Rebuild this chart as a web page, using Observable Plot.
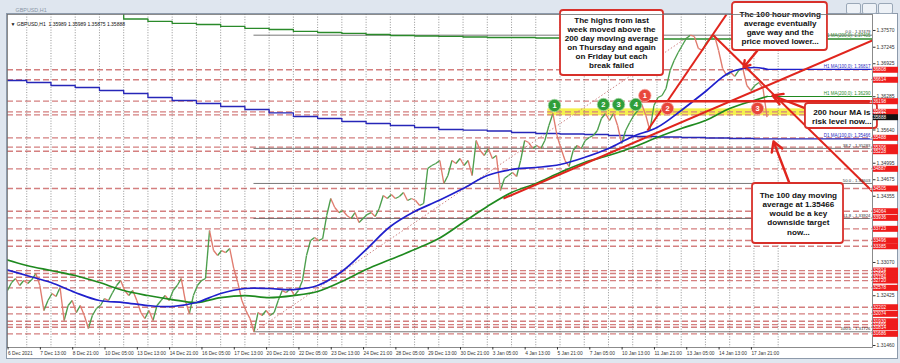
<!DOCTYPE html>
<html><head><meta charset="utf-8">
<script src="https://cdn.jsdelivr.net/npm/d3@7"></script>
<script src="https://cdn.jsdelivr.net/npm/@observablehq/plot@0.6"></script>
<style>
html,body{margin:0;padding:0;background:#dfe6ef;}
#wrap{position:relative;width:900px;height:363px;overflow:hidden;background:#dfe6ef;}
.btn{position:absolute;top:3px;width:13px;height:9px;border:1px solid #9aa8b8;border-radius:2px;background:#eef2f7;}
</style></head><body><div id="wrap"></div>
<script>
// ---- price data: 4-hour closes, hourly bar index = firstBar + barStep*i ----
const firstBar = 5, barStep = 4;
const closes = [1.32526,1.32681,1.32759,1.32623,1.32720,1.32662,1.32739,1.32856,1.32623,1.32138,
1.32332,1.32468,1.32410,1.32584,1.31944,1.32235,1.32332,1.32099,1.32235,1.32041,
1.31789,1.32041,1.32177,1.32235,1.32371,1.32332,1.32487,1.32623,1.32720,1.32526,
1.32429,1.32526,1.32332,1.32099,1.31983,1.32138,1.31944,1.32235,1.32332,1.32429,
1.32332,1.32526,1.32623,1.32759,1.32332,1.32080,1.32429,1.32623,1.32720,1.32759,
1.33690,1.33302,1.33205,1.33302,1.33263,1.33341,1.32953,1.32681,1.32332,1.32138,
1.31983,1.31726,1.32099,1.32041,1.32138,1.32041,1.32099,1.32332,1.32526,1.32487,
1.32565,1.32429,1.32526,1.32720,1.33205,1.33496,1.33554,1.33496,1.33535,1.33981,
1.34311,1.34136,1.34039,1.34078,1.33981,1.33923,1.34039,1.33845,1.33923,1.34000,
1.34039,1.33962,1.34117,1.34369,1.34311,1.34388,1.34311,1.34350,1.34427,1.34272,
1.34311,
1.34272,1.34175,1.34214,1.34893,1.34951,1.34990,1.35048,1.34602,1.34757,1.35048,
1.34990,1.35087,1.34951,1.35048,1.34757,1.35436,1.35242,1.35145,1.35281,1.35087,
1.35145,1.34466,1.34699,1.34757,1.34815,1.34738,1.35048,1.35436,1.35397,1.35281,
1.35339,1.35281,1.35436,1.35727,1.35960,1.35533,1.35281,1.35048,1.34932,1.35242,
1.35339,1.35281,1.35436,1.35494,1.35533,1.35630,1.35863,1.35960,1.35824,1.35960,
1.35727,1.35378,1.35630,1.35785,1.35921,1.36018,1.36134,1.35921,1.35630,1.36115,
1.36270,1.36309,1.36445,1.36794,1.36988,1.37143,1.37279,1.37415,1.37479,1.37454,
1.37221,1.37182,1.37337,1.37415,1.37473,1.37182,1.36833,1.36697,1.36755,1.36678,
1.36794,1.36833,1.36503,1.36406,1.36503,1.36561,1.36445,1.35888];

// hourly moving averages sampled at day boundaries (bar index)
const maIdx = [0,24,48,72,96,120,144,168,192,216,240,264,288,312,336,360,384,408,432,456,480,504,528,552,576,600,624,648,672,696,720,744,757];
const ma100h = [1.32953,1.32817,1.32681,1.32487,1.32332,1.32293,1.32235,1.32216,1.32293,1.32468,1.32565,1.32565,1.32545,1.32623,1.32895,1.33321,1.33768,1.34059,1.34272,1.34505,1.34757,1.34873,1.34912,1.34970,1.35106,1.35281,1.35514,1.35688,1.36018,1.36387,1.36755,1.36852,1.36817];
const ma200h = [1.33147,1.33011,1.32914,1.32817,1.32681,1.32526,1.32429,1.32351,1.32293,1.32390,1.32429,1.32390,1.32429,1.32507,1.32701,1.32933,1.33127,1.33321,1.33535,1.33845,1.34156,1.34427,1.34602,1.34815,1.35009,1.35145,1.35300,1.35494,1.35669,1.35824,1.36057,1.36212,1.36290];

// daily moving averages (one value per trading day)
const dayIdx = [0,24,48,72,96,120,144,168,192,216,240,264,288,312,336,360,384,408,432,456,480,504,528,552,576,600,624,648,672,696,720,744];
const d1ma100 = [1.36600,1.36561,1.36503,1.36464,1.36406,1.36348,1.36270,1.36212,1.36154,1.36096,1.36037,1.35970,1.35902,1.35863,1.35805,1.35766,1.35727,1.35688,1.35649,1.35639,1.35620,1.35591,1.35572,1.35562,1.35552,1.35533,1.35514,1.35504,1.35494,1.35485,1.35475,1.35466];
const d1ma200 = [1.38120,1.38090,1.38060,1.38030,1.37990,1.37793,1.37745,1.37706,1.37686,1.37648,1.37609,1.37589,1.37551,1.37531,1.37512,1.37492,1.37473,1.37463,1.37454,1.37444,1.37434,1.37434,1.37424,1.37424,1.37415,1.37415,1.37415,1.37405,1.37405,1.37405,1.37405,1.37405];

const daySeparators = [24,48,72,96,120,144,168,192,216,240,264,288,312,336,360,384,408,432,456,480,504,528,552,576,600,624,648,672,696,720,744,768];

// axis ticks
const xTickIdx = [5,37,69,101,133,165,197,229,261,293,325,357,389,421,453,485,517,549,581,613,645,677,709,741];
const xTickText = ["6 Dec 2021","7 Dec 13:00","8 Dec 21:00","10 Dec 05:00","13 Dec 13:00","14 Dec 21:00","16 Dec 05:00","17 Dec 13:00","20 Dec 21:00","22 Dec 05:00","23 Dec 13:00","24 Dec 21:00","28 Dec 05:00","29 Dec 13:00","30 Dec 21:00","3 Jan 05:00","4 Jan 13:00","5 Jan 21:00","7 Jan 05:00","10 Jan 13:00","11 Jan 21:00","13 Jan 05:00","14 Jan 13:00","17 Jan 21:00"];
const yTicks = [1.37570,1.37245,1.36925,1.36285,1.35640,1.34995,1.34675,1.34355,1.33070,1.32425,1.31460];

// horizontal levels (dashed) and price labels
const levels = [1.36808,1.36614,1.36198,1.35992,1.35932,1.35488,1.35306,1.35228,1.34887,1.34505,1.34064,1.33936,1.33723,1.33496,1.33385,1.32914,1.32856,1.32784,1.32720,1.32578,1.32202,1.32074,1.31930,1.31866,1.31814,1.31686];
const lastPrice = 1.35888;
const keyLevel = 1.36198, keyLevelStart = 632;
const bandLow = 1.35915, bandHigh = 1.36050, bandStart = 540;

// fibonacci retracement
const fibPct = ["0.0","38.2","50.0","61.8","100.0"];
const fibPrice = [1.37479,1.35283,1.34603,1.33924,1.31726];
const fibLowIdx = 249, fibHighIdx = 681;

// MA value labels
const maLabelText = ["D1 MA(200,0): 1.37405","H1 MA(100,0): 1.36817","H1 MA(200,0): 1.36290","D1 MA(100,0): 1.35466"];
const maLabelPrice = [1.37405,1.36817,1.36290,1.35466];
const maLabelColor = ["#2a8a2a","#2a2ac0","#2a8a2a","#2a2ac0"];

// trend lines
const trendX1 = [496,638.6,704], trendY1 = [1.34311,1.35630,1.37473];
const trendX2 = [861.4,716.8,861.4], trendY2 = [1.37376,1.37880,1.34447];

// numbered markers
const greenMarkIdx = [546.5,595,610,627], greenMarkPrice = [1.36115,1.36134,1.36134,1.36134];
const redMarkIdx = [636,658.4,747.5], redMarkPrice = [1.36309,1.36057,1.36057];

// annotations
const noteText = [
 "The highs from last\nweek moved above the\n200 day moving average\non Thursday and again\non Friday but each\nbreak failed",
 "The 100 hour moving\naverage eventually\ngave way and the\nprice moved lower...",
 "200 hour MA is\nrisk level now...",
 "The 100 day moving\naverage at 1.35466\nwould be a key\ndownside target\nnow..."];
const noteX = [603,770,831,788], noteY = [1.37337,1.37628,1.35902,1.34020];
const boxX1 = [552.5,722.8,795,742.6], boxX2 = [654.5,816.8,866.3,832.7];
const boxY1 = [1.36697,1.37182,1.35669,1.33438], boxY2 = [1.37958,1.38113,1.36154,1.34602];
const arrowX1 = [780,747.5,795], arrowY1 = [1.34563,1.37182,1.36057];
const arrowX2 = [763.4,733.7,762.4], arrowY2 = [1.35417,1.36852,1.36309];

// ---- build tables ----
const xMin = 4.95, xMax = 861.4;
const bars = closes.map((c,i)=>({x: firstBar + barStep*i, c}));
const lastIdx = bars[bars.length-1].x;
const segs = bars.slice(1).map((b,i)=>({x1: bars[i].x, y1: bars[i].c, x2: b.x, y2: b.c, up: b.c >= bars[i].c}));
const h100 = maIdx.map((x,i)=>({x, y: ma100h[i]}));
const h200 = maIdx.map((x,i)=>({x, y: ma200h[i]}));
const dStep100 = dayIdx.map((x,i)=>({x, y: d1ma100[i]})).concat([{x: xMax, y: d1ma100[d1ma100.length-1]}]);
const dStep200 = dayIdx.map((x,i)=>({x, y: d1ma200[i]})).concat([{x: xMax, y: d1ma200[d1ma200.length-1]}]);
const fib = fibPct.map((p,i)=>({p, y: fibPrice[i]}));
const maLabels = maLabelText.map((t,i)=>({t, y: maLabelPrice[i], c: maLabelColor[i]}));
const trends = trendX1.map((x,i)=>({x1:x, y1:trendY1[i], x2:trendX2[i], y2:trendY2[i]}));
const greens = greenMarkIdx.map((x,i)=>({x, y: greenMarkPrice[i], n: String(i+1)}));
const reds = redMarkIdx.map((x,i)=>({x, y: redMarkPrice[i], n: String(i+1)}));
const notes = noteText.map((t,i)=>({t, x: noteX[i], y: noteY[i], x1: boxX1[i], x2: boxX2[i], y1: boxY1[i], y2: boxY2[i]}));
const arrows = arrowX1.map((x,i)=>({x1:x, y1:arrowY1[i], x2:arrowX2[i], y2:arrowY2[i]}));
const tickLabel = new Map(xTickIdx.map((d,i)=>[d, xTickText[i]]));

const RED = "#e0251d";
const chart = Plot.plot({
  width: 900, height: 363,
  marginLeft: 7, marginRight: 28, marginTop: 14, marginBottom: 16,
  x: {domain: [xMin, xMax]},
  y: {domain: [1.31421, 1.37880]},
  style: {fontFamily: "Liberation Sans, Arial, sans-serif", background: "transparent", overflow: "visible"},
  marks: [
    Plot.frame({fill: "white", stroke: "#8d9aab", insetLeft: -1, insetTop: -1, insetRight: -25, insetBottom: -11}),
    Plot.rect([0], {x1: bandStart, x2: xMax, y1: bandLow, y2: bandHigh, fill: "#f4f03a", fillOpacity: 0.9}),
    Plot.ruleY(levels, {y: d=>d, stroke: "#d47f7f", strokeWidth: 1.3, strokeDasharray: "6,3"}),
    Plot.ruleX(daySeparators, {x: d=>d, stroke: "#666", strokeWidth: 0.7, strokeDasharray: "1,1.6"}),
    Plot.ruleY(fib, {y: "y", x1: fibLowIdx, x2: xMax, stroke: "#555", strokeWidth: 0.8}),
    Plot.link([0], {x1: fibLowIdx, y1: fibPrice[4], x2: fibHighIdx, y2: fibPrice[0], stroke: "#d08585", strokeWidth: 1, strokeDasharray: "1.5,2"}),
    Plot.line(dStep100, {x: "x", y: "y", curve: "step-after", stroke: "#2626b8", strokeWidth: 1.3, clip: true}),
    Plot.line(dStep200, {x: "x", y: "y", curve: "step-after", stroke: "#2a8a2a", strokeWidth: 1.3, clip: true}),
    Plot.link(segs.filter(d=>d.up), {x1:"x1", y1:"y1", x2:"x2", y2:"y2", stroke: "#4c9e4c", strokeWidth: 1.35}),
    Plot.link(segs.filter(d=>!d.up), {x1:"x1", y1:"y1", x2:"x2", y2:"y2", stroke: "#e07b6e", strokeWidth: 1.35}),
    Plot.line(h200, {x: "x", y: "y", curve: "catmull-rom", stroke: "#1f8a1f", strokeWidth: 1.7, clip: true}),
    Plot.line(h100, {x: "x", y: "y", curve: "catmull-rom", stroke: "#2020cc", strokeWidth: 1.7, clip: true}),
    Plot.ruleY([ma100h[ma100h.length-1]], {y: d=>d, x1: lastIdx, x2: xMax, stroke: "#2020cc", strokeWidth: 1.3}),
    Plot.ruleY([ma200h[ma200h.length-1]], {y: d=>d, x1: lastIdx, x2: xMax, stroke: "#1f8a1f", strokeWidth: 1.1}),
    Plot.ruleY([keyLevel], {y: d=>d, x1: keyLevelStart, x2: xMax, stroke: RED, strokeWidth: 2.6}),
    Plot.link(trends, {x1:"x1", y1:"y1", x2:"x2", y2:"y2", stroke: RED, strokeWidth: 2, clip: true}),
    Plot.arrow(arrows, {x1:"x1", y1:"y1", x2:"x2", y2:"y2", stroke: RED, strokeWidth: 2.4, headLength: 7}),
    Plot.dot(greens, {x: "x", y: "y", r: 6.2, fill: "#2f9e3a", stroke: "#9fd39f", strokeWidth: 0.8}),
    Plot.text(greens, {x: "x", y: "y", text: "n", fill: "white", fontSize: 7.5, fontWeight: "bold"}),
    Plot.dot(reds, {x: "x", y: "y", r: 6.2, fill: "#e8473c", stroke: "#f5a8a0", strokeWidth: 0.8}),
    Plot.text(reds, {x: "x", y: "y", text: "n", fill: "white", fontSize: 7.5, fontWeight: "bold"}),
    Plot.text(fib, {y: "y", text: d=>d.p + " - " + d.y.toFixed(5), frameAnchor: "right", dx: -2, dy: -3.2, textAnchor: "end", fontSize: 4.3, fill: "#333"}),
    Plot.text(maLabels, {y: "y", text: "t", fill: "c", frameAnchor: "right", dx: -2, dy: -3.2, textAnchor: "end", fontSize: 4.5}),
    Plot.rect(notes, {x1:"x1", x2:"x2", y1:"y1", y2:"y2", fill: "white", stroke: "#d8302a", strokeWidth: 1.8, rx: 3}),
    Plot.text(notes, {x: "x", y: "y", text: "t", fontSize: 8.1, fontWeight: "bold", lineHeight: 1.12, fill: "#111"}),
    Plot.frame({stroke: "#6f6f6f", strokeWidth: 0.8}),
    Plot.axisX(xTickIdx, {anchor: "bottom", tickSize: 2.5, tickPadding: 1.5, textAnchor: "start", dx: 0.5, fontSize: 4.8, color: "#333", tickFormat: d => tickLabel.get(d)}),
    Plot.axisY(yTicks, {anchor: "right", tickSize: 2.5, tickPadding: 1.5, fontSize: 5, color: "#333", tickFormat: d => d.toFixed(5)}),
    Plot.ruleY(levels, {y: d=>d, stroke: "#ee1c1c", strokeWidth: 6, insetLeft: 866, insetRight: -26}),
    Plot.text(levels, {y: d=>d, text: d=>d.toFixed(5), frameAnchor: "right", dx: 13.5, fill: "white", fontSize: 4.6}),
    Plot.ruleY([lastPrice], {y: d=>d, stroke: "#111", strokeWidth: 6, insetLeft: 866, insetRight: -26}),
    Plot.text([lastPrice], {y: d=>d, text: d=>d.toFixed(5), frameAnchor: "right", dx: 13.5, fill: "white", fontSize: 4.6}),
    Plot.text(["\u25BC GBPUSD,H1  1.35989 1.35989 1.35875 1.35888"], {frameAnchor: "top-left", dx: 3, dy: 8, textAnchor: "start", fontSize: 5, fill: "#111"}),
    Plot.text(["GBPUSD,H1"], {frameAnchor: "top-left", dx: 8, dy: -6, textAnchor: "start", fontSize: 5.4, fill: "#8a96a6"})
  ]
});
const wrap = document.getElementById("wrap");
wrap.appendChild(chart);
chart.style.position = "absolute"; chart.style.left = "0"; chart.style.top = "0";
[846, 862, 878].forEach(l => { const b = document.createElement("div"); b.className = "btn"; b.style.left = l + "px"; wrap.appendChild(b); });
</script></body></html>
